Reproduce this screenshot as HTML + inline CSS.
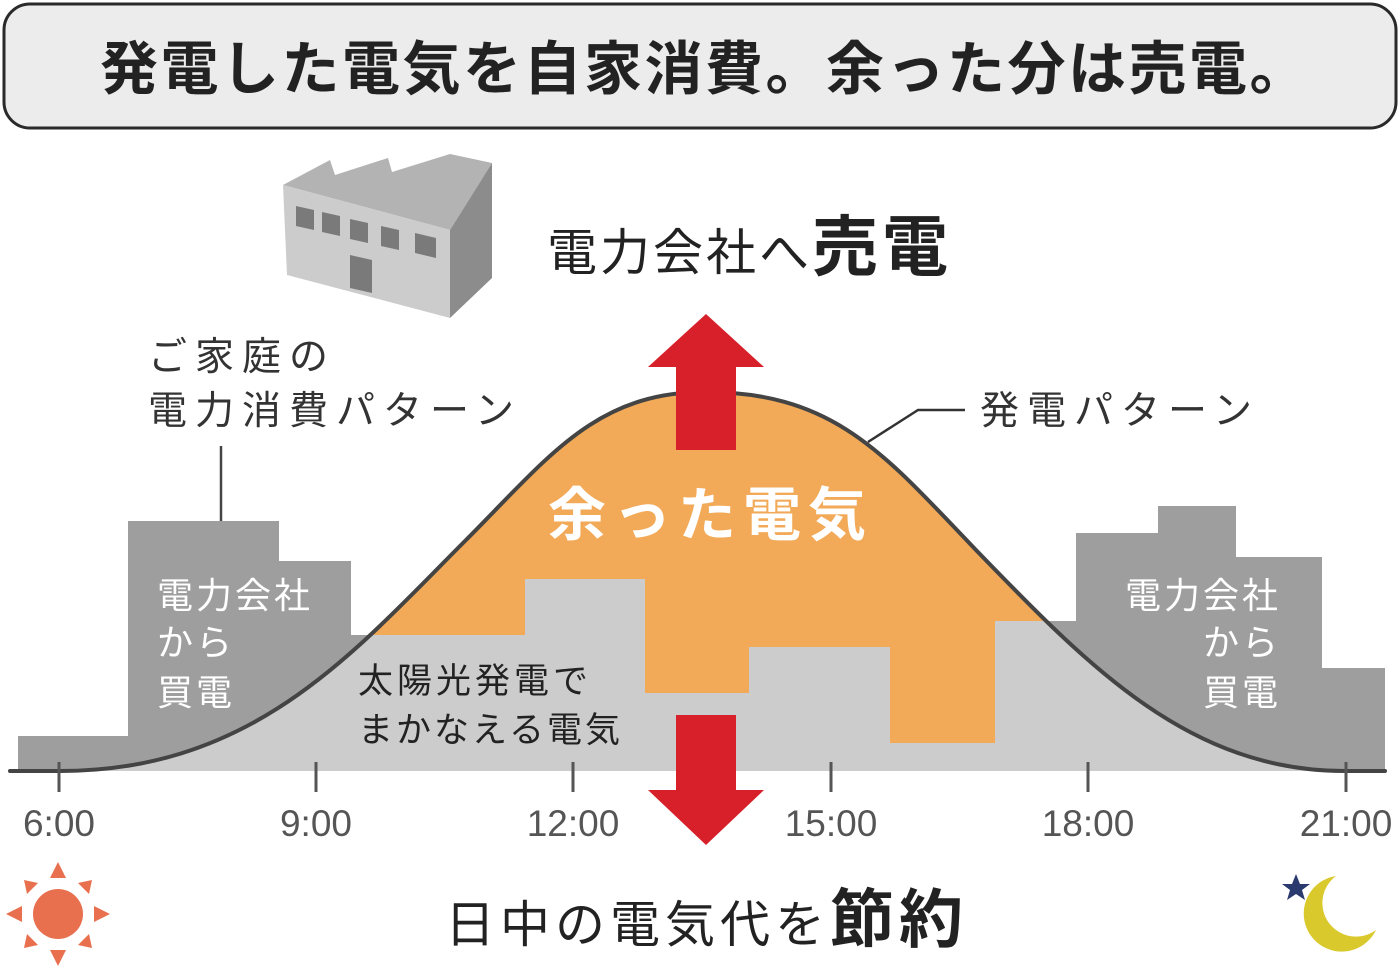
<!DOCTYPE html>
<html><head><meta charset="utf-8"><style>
html,body{margin:0;padding:0;background:#fff;}
svg{display:block;font-family:"Liberation Sans","Noto Sans CJK JP",sans-serif;}
</style></head><body>
<svg width="1400" height="970" viewBox="0 0 1400 970" xmlns="http://www.w3.org/2000/svg">
<defs>
<clipPath id="under"><path d="M10,771 L60,771 C255,771 355,651 465,541 C548,458 595,392 705,392 C835,392 885,455 975,549 C1090,668 1190,771 1345,771 L1385,771 Z"/></clipPath>
</defs>
<rect x="4" y="4" width="1392" height="124" rx="26" fill="#ececec" stroke="#2a2a2a" stroke-width="3"/>
<text x="705" y="89" text-anchor="middle" font-size="58" font-weight="bold" fill="#222" letter-spacing="2.5">発電した電気を自家消費。余った分は売電。</text>

<!-- factory -->
<polygon points="283,185 330,160 335,175 388,158 392,172 450,154 492,163 450,230" fill="#b3b3b3"/>
<polygon points="283,185 450,230 450,318 287,275" fill="#cccccc"/>
<polygon points="450,230 492,163 492,278 450,318" fill="#8c8c8c"/>
<g fill="#7a7a7a">
<polygon points="296,206 314,210 314,230 296,226"/>
<polygon points="322,212 340,216 340,236 322,232"/>
<polygon points="350,219 368,223 368,243 350,239"/>
<polygon points="381,226 399,230 399,250 381,246"/>
<polygon points="415,233 436,238 436,258 415,253"/>
<polygon points="350,255 372,260 372,293 350,288"/>
</g>

<text x="547" y="270" font-size="50" fill="#222" letter-spacing="3">電力会社へ<tspan font-size="66" font-weight="bold" letter-spacing="4">売電</tspan></text>

<text x="148" y="370" font-size="39" fill="#333" letter-spacing="8">ご家庭の</text>
<text x="148" y="424" font-size="39" fill="#333" letter-spacing="8">電力消費パターン</text>
<line x1="221" y1="446" x2="221" y2="521" stroke="#444" stroke-width="2.5"/>
<text x="980" y="424" font-size="39" fill="#333" letter-spacing="8">発電パターン</text>
<polyline points="868,442 918,410 965,410" fill="none" stroke="#333" stroke-width="2.5"/>

<!-- chart -->
<polygon points="18,771 18,736 128,736 128,521 279,521 279,561 351,561 351,635 525,635 525,579 645,579 645,693 749,693 749,647 890,647 890,743 995,743 995,621 1076,621 1076,533 1158,533 1158,506 1236,506 1236,557 1322,557 1322,668 1385,668 1385,771" fill="#9e9e9e"/>
<path d="M10,771 L60,771 C255,771 355,651 465,541 C548,458 595,392 705,392 C835,392 885,455 975,549 C1090,668 1190,771 1345,771 L1385,771 Z" fill="#f2aa58"/>
<polygon clip-path="url(#under)" points="18,771 18,736 128,736 128,521 279,521 279,561 351,561 351,635 525,635 525,579 645,579 645,693 749,693 749,647 890,647 890,743 995,743 995,621 1076,621 1076,533 1158,533 1158,506 1236,506 1236,557 1322,557 1322,668 1385,668 1385,771" fill="#cccccc"/>
<path d="M10,771 L60,771 C255,771 355,651 465,541 C548,458 595,392 705,392 C835,392 885,455 975,549 C1090,668 1190,771 1345,771 L1385,771" fill="none" stroke="#444" stroke-width="4" stroke-linecap="round"/>

<g fill="#d7202a">
<rect x="676" y="366" width="60" height="84"/>
<polygon points="648,367 764,367 706,314"/>
<rect x="676" y="715" width="60" height="76"/>
<polygon points="648,790 764,790 706,845"/>
</g>

<text x="548" y="535" font-size="58" font-weight="bold" fill="#fff" letter-spacing="7">余った電気</text>
<g font-size="36" fill="#fff" letter-spacing="3">
<text x="157" y="608">電力会社</text>
<text x="157" y="655">から</text>
<text x="157" y="705">買電</text>
<text x="1281" y="608" text-anchor="end">電力会社</text>
<text x="1281" y="655" text-anchor="end">から</text>
<text x="1281" y="705" text-anchor="end">買電</text>
</g>
<text x="358" y="693" font-size="35" fill="#222" letter-spacing="4">太陽光発電で</text>
<text x="358" y="742" font-size="35" fill="#222" letter-spacing="3">まかなえる電気</text>

<g stroke="#555" stroke-width="3">
<line x1="59" y1="762" x2="59" y2="792"/><line x1="316" y1="762" x2="316" y2="792"/>
<line x1="573" y1="762" x2="573" y2="792"/><line x1="831" y1="762" x2="831" y2="792"/>
<line x1="1088" y1="762" x2="1088" y2="792"/><line x1="1346" y1="762" x2="1346" y2="792"/>
</g>
<g font-size="37" fill="#555" text-anchor="middle">
<text x="59" y="836">6:00</text><text x="316" y="836">9:00</text><text x="573" y="836">12:00</text>
<text x="831" y="836">15:00</text><text x="1088" y="836">18:00</text><text x="1346" y="836">21:00</text>
</g>

<text x="445" y="942" font-size="50" fill="#222" letter-spacing="5">日中の電気代を<tspan font-size="64" font-weight="bold">節約</tspan></text>

<!-- sun -->
<g fill="#e8704f">
<circle cx="58" cy="914" r="25"/>
<polygon points="50,878 66,878 58,862"/><polygon points="50,950 66,950 58,966"/>
<polygon points="22,906 22,922 6,914"/><polygon points="94,906 94,922 110,914"/>
<polygon points="27,894 38,883 24,880"/><polygon points="89,894 78,883 92,880"/>
<polygon points="27,934 38,945 24,948"/><polygon points="89,934 78,945 92,948"/>
</g>
<!-- moon -->
<path d="M1336,876 A38,38 0 1 0 1376,930 A32,32 0 1 1 1336,876 Z" fill="#d9c92c"/>
<polygon points="1296,874 1300,884 1310,884 1302,890 1305,900 1296,894 1287,900 1290,890 1282,884 1292,884" fill="#2a3a6e"/>
</svg>
</body></html>
